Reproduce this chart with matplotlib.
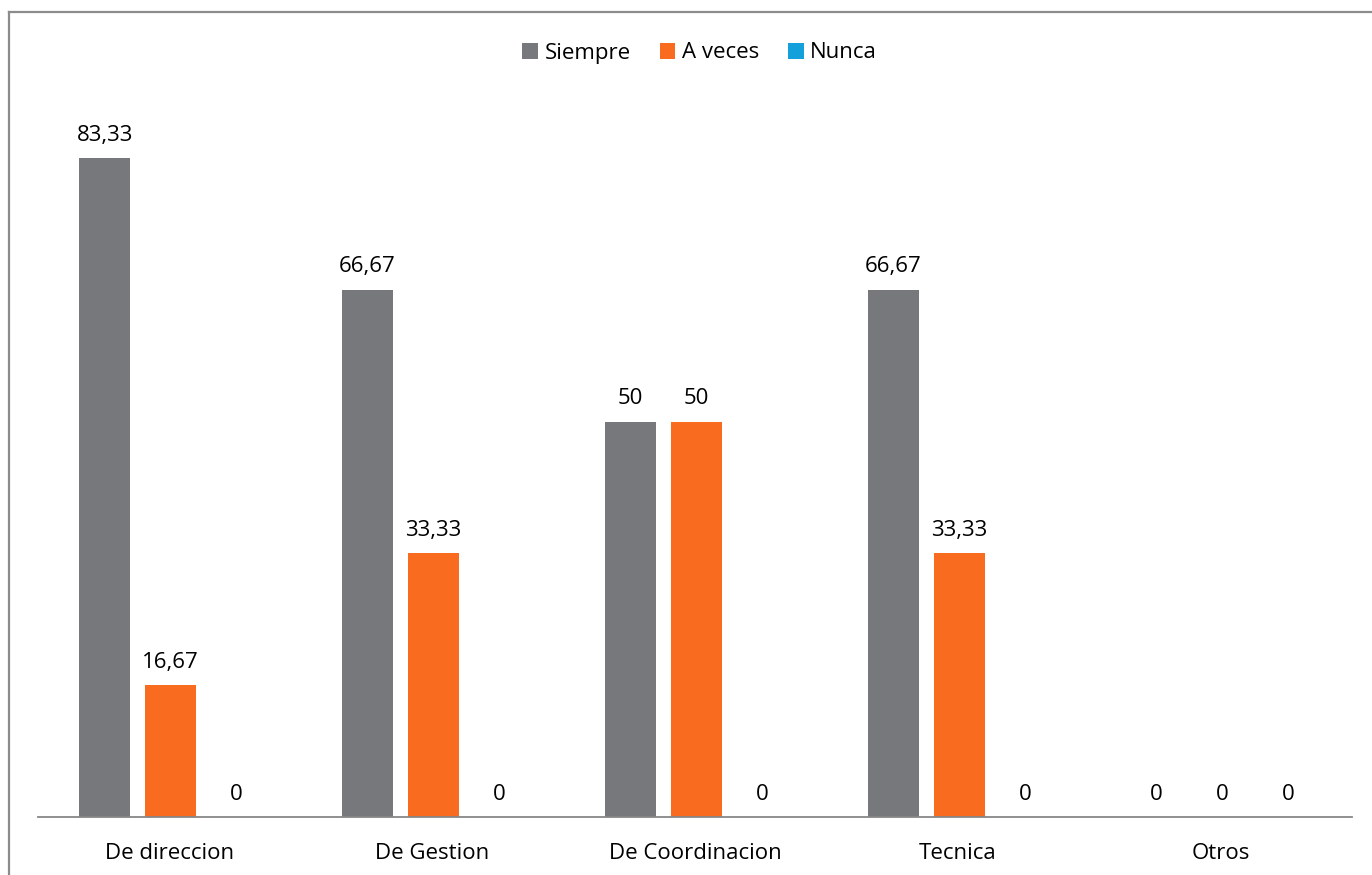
import matplotlib.pyplot as plt
from matplotlib.patches import Patch
from matplotlib.lines import Line2D
import numpy as np

plt.rcParams['font.family'] = ['Open Sans', 'DejaVu Sans']

# Datos del grafico
categorias = ['De direccion', 'De Gestion', 'De Coordinacion', 'Tecnica', 'Otros']
siempre = [83.33, 66.67, 50, 66.67, 0]
a_veces = [16.67, 33.33, 50, 33.33, 0]
nunca = [0, 0, 0, 0, 0]

series = ['Siempre', 'A veces', 'Nunca']
colores = ['#77787C', '#F96B1E', '#14A0DA']

W, H = 1372, 875
fig = plt.figure(figsize=(W / 100, H / 100), dpi=100)
ax = fig.add_axes([38 / W, 58 / H, 1314 / W, 790.8 / H])

x = np.arange(len(categorias))
ancho = 0.194
paso = 0.251

for j, (nombre, valores, color) in enumerate(zip(series, [siempre, a_veces, nunca], colores)):
    pos = x + (j - 1) * paso + 0.005
    barras = ax.bar(pos, valores, width=ancho, color=color, label=nombre)
    for b, v in zip(barras, valores):
        texto = f'{v:.2f}'.replace('.', ',') if v % 1 else f'{int(v)}'
        ax.annotate(texto, (b.get_x() + b.get_width() / 2, b.get_height()),
                    xytext=(0, 9), textcoords='offset points',
                    ha='center', va='bottom', fontsize=16, color='#000000')

ax.set_xlim(-0.5, len(categorias) - 0.5)
ax.set_ylim(0, 100)
ax.set_xticks(x)
ax.set_xticklabels(categorias, fontsize=16)
ax.tick_params(axis='x', length=0, pad=19)
ax.set_yticks([])
for s in ['top', 'right', 'left']:
    ax.spines[s].set_visible(False)
ax.spines['bottom'].set_color('#878787')
ax.spines['bottom'].set_linewidth(1.3)

handles = [Patch(facecolor=c, edgecolor='none') for c in colores]
fig.legend(handles, series, loc='center', bbox_to_anchor=(0.51, 1 - 53 / H),
           ncol=3, frameon=False, fontsize=16, handlelength=0.7, handleheight=0.7,
           handletextpad=0.3, columnspacing=1.3)

# Marco exterior
fig.add_artist(Line2D([9 / W, 9 / W], [0, 1 - 12 / H], color='#8C8C8C', lw=1.6))
fig.add_artist(Line2D([9 / W, 1], [1 - 12 / H, 1 - 12 / H], color='#8C8C8C', lw=1.6))

fig.savefig('out.png', dpi=100, facecolor='white')
